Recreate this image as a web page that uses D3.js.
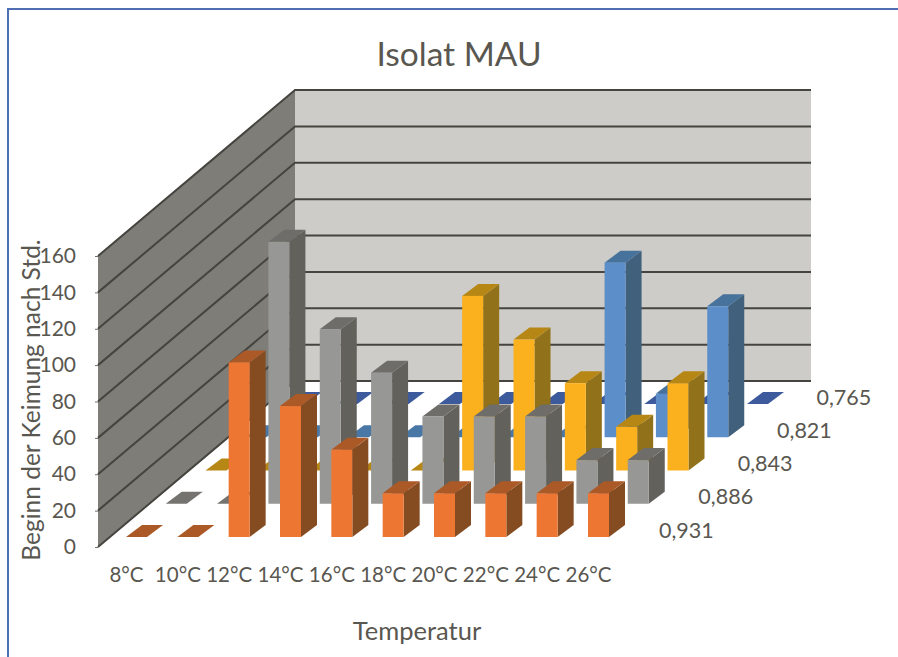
<!DOCTYPE html>
<html>
<head>
<meta charset="utf-8">
<script src="https://d3js.org/d3.v7.min.js"></script>
<style>
  html, body { margin: 0; padding: 0; background: #fff; }
  svg { display: block; }
  text { font-family: Lato, "Open Sans", sans-serif; fill: #595750; }
</style>
</head>
<body>
<svg></svg>
<script>
  // values (hours), 0 = flat tile on the floor
  var temperatures = ["8°C", "10°C", "12°C", "14°C", "16°C", "18°C", "20°C", "22°C", "24°C", "26°C"];
  var rows = ["0,931", "0,886", "0,843", "0,821", "0,765"];
  var row931 = [0, 0, 96, 72, 48, 24, 24, 24, 24, 24];
  var row886 = [0, 0, 144, 96, 72, 48, 48, 48, 24, 24];
  var row843 = [0, 0, 0, 0, 0, 96, 72, 48, 24, 48];
  var row821 = [0, 0, 0, 0, 0, 0, 0, 96, 24, 72];
  var row765 = [0, 0, 0, 0, 0, 0, 0, 0, 0, 0];
  var yTicks = [0, 20, 40, 60, 80, 100, 120, 140, 160];
  var series = [row931, row886, row843, row821, row765];

  // front, top, side, flat tile
  var rowColors = [
    ["#ed7632", "#ab5a27", "#854c21", "#ab5a27"],
    ["#979795", "#6e6d69", "#62615b", "#74736f"],
    ["#fbb11d", "#b78716", "#917119", "#b78716"],
    ["#5c8fc9", "#46729c", "#40607c", "#4a78a6"],
    ["#5c8fc9", "#46729c", "#40607c", "#3c5a9c"]
  ];

  var width = 898, height = 657;
  var barW = 21, barDx = 16, barDy = 12;

  var svg = d3.select("svg").attr("width", width).attr("height", height);

  // outer frame
  svg.append("rect").attr("x", 8).attr("y", 9).attr("width", 920).attr("height", 700)
    .attr("fill", "none").attr("stroke", "#4f6fb3").attr("stroke-width", 2);

  var x = d3.scalePoint().domain(temperatures).range([126, 588]);
  var y = d3.scaleLinear().domain([0, 160]).range([0, 291]);
  var depthX = d3.scalePoint().domain(rows).range([0, 159]);
  var depthY = d3.scalePoint().domain(rows).range([537, 404]);

  // floor corners, walls go up from there
  var floorX0 = 98, floorY0 = 547, backDx = 197, backDy = -166, backRight = 811;
  var wallH = y(160);

  function poly(sel, pts, fill) {
    return sel.append("polygon")
      .attr("points", pts.map(function (p) { return p.join(","); }).join(" "))
      .attr("fill", fill);
  }

  var walls = svg.append("g");
  poly(walls, [[floorX0, floorY0], [floorX0 + backDx, floorY0 + backDy], [floorX0 + backDx, floorY0 + backDy - wallH], [floorX0, floorY0 - wallH]], "#7e7d78");
  poly(walls, [[floorX0 + backDx, floorY0 + backDy], [backRight, floorY0 + backDy], [backRight, floorY0 + backDy - wallH], [floorX0 + backDx, floorY0 + backDy - wallH]], "#cdccc8");

  walls.selectAll("path.grid")
    .data(yTicks)
    .enter().append("path")
    .attr("class", "grid")
    .attr("d", function (d) {
      return "M" + floorX0 + "," + (floorY0 - y(d)) +
        "L" + (floorX0 + backDx) + "," + (floorY0 + backDy - y(d)) +
        "L" + backRight + "," + (floorY0 + backDy - y(d));
    })
    .attr("fill", "none")
    .attr("stroke", "#45443f")
    .attr("stroke-width", 2);

  // y axis on the front edge of the left wall
  var yAxisScale = d3.scaleLinear().domain([0, 160]).range([floorY0, floorY0 - wallH]);
  var yAxis = svg.append("g")
    .attr("transform", "translate(" + floorX0 + ",0)")
    .call(d3.axisLeft(yAxisScale).tickValues(yTicks).tickSize(3).tickPadding(19));
  yAxis.select(".domain").remove();
  yAxis.selectAll("line").attr("stroke", "#6e6d69");
  yAxis.selectAll("text").attr("font-size", 21).attr("font-family", "Lato");

  // bars, back row first
  var bars = svg.append("g");
  d3.range(rows.length - 1, -1, -1).forEach(function (r) {
    var dx = depthX(rows[r]);
    var base = depthY(rows[r]);
    var c = rowColors[r];
    series[r].forEach(function (v, i) {
      var x0 = x(temperatures[i]) + dx;
      var h = y(v);
      var g = bars.append("g");
      if (v === 0) {
        poly(g, [[x0, base], [x0 + barW, base], [x0 + barW + barDx, base - barDy], [x0 + barDx, base - barDy]], c[3]);
        return;
      }
      poly(g, [[x0 + barW, base], [x0 + barW + barDx, base - barDy], [x0 + barW + barDx, base - barDy - h], [x0 + barW, base - h]], c[2]);
      poly(g, [[x0, base - h], [x0 + barW, base - h], [x0 + barW + barDx, base - h - barDy], [x0 + barDx, base - h - barDy]], c[1]);
      g.append("rect").attr("x", x0).attr("y", base - h).attr("width", barW).attr("height", h).attr("fill", c[0]);
    });
  });

  // category labels
  var xAxis = svg.append("g")
    .attr("transform", "translate(0,566)")
    .call(d3.axisBottom(x).tickSize(0).tickPadding(0));
  xAxis.select(".domain").remove();
  xAxis.selectAll("text").attr("font-size", 20.5).attr("font-family", "Lato").attr("dy", "0.8em");

  // depth labels
  svg.append("g").selectAll("text")
    .data(rows)
    .enter().append("text")
    .attr("x", function (d) { return 659 + depthX(d) * 0.99; })
    .attr("y", function (d) { return depthY(d) - 7; })
    .attr("dy", "0.35em")
    .attr("font-size", 21.5)
    .text(function (d) { return d; });

  svg.append("text").attr("x", 459).attr("y", 66)
    .attr("text-anchor", "middle").attr("font-size", 33.5).text("Isolat MAU");
  svg.append("text").attr("x", 417).attr("y", 640)
    .attr("text-anchor", "middle").attr("font-size", 25.5).text("Temperatur");
  svg.append("text").attr("transform", "translate(40,400) rotate(-90)")
    .attr("text-anchor", "middle").attr("font-size", 24.5).text("Beginn der Keimung nach Std.");
</script>
</body>
</html>
